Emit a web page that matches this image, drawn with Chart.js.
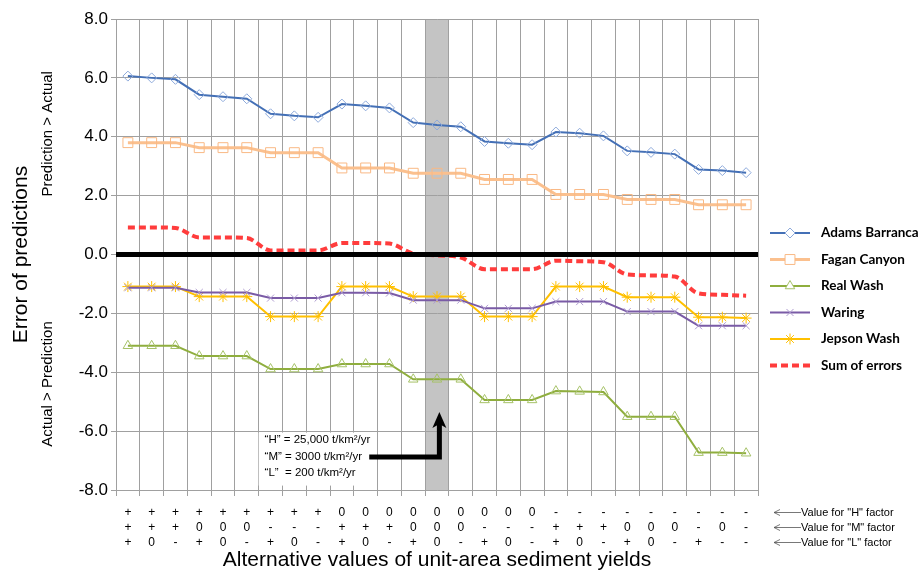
<!DOCTYPE html>
<html>
<head>
<meta charset="utf-8">
<script src="https://cdn.jsdelivr.net/npm/chart.js@4.4.1/dist/chart.umd.min.js"></script>
<style>
	html, body { margin: 0; padding: 0; background: #fff; }
	#wrap { width: 922px; height: 574px; position: relative; }
</style>
</head>
<body>
<div id="wrap"><canvas id="chart-sediment-errors"></canvas></div>
<script>
// Factor values for each alternative (rows under the x axis)
const H_FACTOR = ["+", "+", "+", "+", "+", "+", "+", "+", "+", "0", "0", "0", "0", "0", "0", "0", "0", "0", "-", "-", "-", "-", "-", "-", "-", "-", "-"];
const M_FACTOR = ["+", "+", "+", "0", "0", "0", "-", "-", "-", "+", "+", "+", "0", "0", "0", "-", "-", "-", "+", "+", "+", "0", "0", "0", "-", "0", "-"];
const L_FACTOR = ["+", "0", "-", "+", "0", "-", "+", "0", "-", "+", "0", "-", "+", "0", "-", "+", "0", "-", "+", "0", "-", "+", "0", "-", "+", "-", "-"];

// Series values (error of predictions)
const ADAMS_BARRANCA = [6.06, 6.00, 5.95, 5.43, 5.36, 5.29, 4.78, 4.71, 4.66, 5.11, 5.05, 4.98, 4.48, 4.40, 4.34, 3.84, 3.78, 3.73, 4.16, 4.12, 4.03, 3.52, 3.47, 3.41, 2.89, 2.85, 2.78];
const FAGAN_CANYON = [3.80, 3.80, 3.80, 3.63, 3.63, 3.63, 3.46, 3.46, 3.46, 2.94, 2.94, 2.94, 2.76, 2.76, 2.76, 2.55, 2.55, 2.55, 2.04, 2.04, 2.04, 1.87, 1.87, 1.87, 1.69, 1.69, 1.69];
const REAL_WASH = [-3.10, -3.10, -3.10, -3.45, -3.45, -3.45, -3.89, -3.89, -3.89, -3.72, -3.72, -3.72, -4.24, -4.24, -4.24, -4.94, -4.94, -4.94, -4.64, -4.65, -4.67, -5.51, -5.51, -5.51, -6.73, -6.73, -6.75];
const WARING = [-1.13, -1.13, -1.13, -1.29, -1.29, -1.29, -1.48, -1.48, -1.48, -1.30, -1.30, -1.31, -1.55, -1.55, -1.55, -1.83, -1.83, -1.83, -1.60, -1.60, -1.60, -1.94, -1.94, -1.94, -2.42, -2.42, -2.42];
const JEPSON_WASH = [-1.09, -1.09, -1.09, -1.43, -1.43, -1.43, -2.11, -2.11, -2.11, -1.09, -1.09, -1.09, -1.43, -1.43, -1.43, -2.11, -2.11, -2.11, -1.09, -1.09, -1.09, -1.45, -1.45, -1.45, -2.13, -2.13, -2.16];
const SUM_OF_ERRORS = [0.92, 0.92, 0.90, 0.58, 0.58, 0.56, 0.14, 0.14, 0.14, 0.39, 0.39, 0.37, 0.03, -0.03, -0.10, -0.50, -0.50, -0.50, -0.21, -0.23, -0.26, -0.68, -0.71, -0.75, -1.32, -1.37, -1.40];

// Highlighted alternative (H, M and L all at "0")
const HIGHLIGHT_INDEX = 13;
const NOTE_LINES = ["\u201CH\u201D = 25,000 t/km\u00B2/yr", "\u201CM\u201D = 3000 t/km\u00B2/yr", "\u201CL\u201D  = 200 t/km\u00B2/yr"];
const ROW_NOTES = ["Value for \"H\" factor", "Value for \"M\" factor", "Value for \"L\" factor"];

const LABELS = H_FACTOR.map((h, i) => [h, M_FACTOR[i], L_FACTOR[i]]);

const TICK_LEN = 6;
const TICK_PAD = 9;
const ROW_H = 15;
const GRID = "#a0a0a0";

//---------------------------------------------------------
// Extra drawing: band, zero line, notes, legend
//---------------------------------------------------------
const extrasPlugin = {
	id: "sedimentExtras",
	beforeDraw(chart) {
		const { ctx, chartArea: a, scales: { x } } = chart;
		const half = (x.getPixelForValue(1) - x.getPixelForValue(0)) / 2;
		const cx = x.getPixelForValue(HIGHLIGHT_INDEX);
		ctx.save();
		ctx.fillStyle = "#c4c4c4";
		ctx.fillRect(cx - half, a.top, half * 2, a.bottom - a.top);
		ctx.restore();
	},
	beforeDatasetsDraw(chart) {
		const { ctx, scales: { x, y } } = chart;
		// note box behind the text
		ctx.save();
		ctx.fillStyle = "#fff";
		const bx0 = x.getPixelForValue(5.5);
		const bx1 = x.getPixelForValue(10.2);
		const by0 = y.getPixelForValue(-6.05);
		const by1 = y.getPixelForValue(-7.85);
		ctx.fillRect(bx0, by0, bx1 - bx0, by1 - by0);
		ctx.restore();
	},
	afterDatasetsDraw(chart) {
		const { ctx, chartArea: a, scales: { y } } = chart;
		// zero line on top of the series
		const y0 = y.getPixelForValue(0);
		ctx.save();
		ctx.strokeStyle = "#000";
		ctx.lineWidth = 5;
		ctx.beginPath();
		ctx.moveTo(a.left, y0);
		ctx.lineTo(a.right, y0);
		ctx.stroke();
		ctx.restore();
	},
	afterDraw(chart) {
		const { ctx, chartArea: a, scales: { x, y } } = chart;
		ctx.save();

		// side labels on the y axis
		ctx.fillStyle = "#000";
		ctx.font = "15px 'Liberation Sans', Arial, sans-serif";
		ctx.textAlign = "center";
		ctx.textBaseline = "middle";
		[["Prediction > Actual", 4.1], ["Actual > Prediction", -4.4]].forEach(([t, v]) => {
			ctx.save();
			ctx.translate(a.left - 68, y.getPixelForValue(v));
			ctx.rotate(-Math.PI / 2);
			ctx.fillText(t, 0, 0);
			ctx.restore();
		});

		// note text
		ctx.font = "11.5px 'Liberation Sans', Arial, sans-serif";
		ctx.textAlign = "left";
		const nx = x.getPixelForValue(5.75);
		[-6.30, -6.88, -7.43].forEach((v, i) => {
			ctx.fillText(NOTE_LINES[i], nx, y.getPixelForValue(v));
		});

		// elbow arrow
		const ax0 = x.getPixelForValue(10.15);
		const ax1 = x.getPixelForValue(13.1);
		const ay0 = y.getPixelForValue(-6.88);
		const tip = y.getPixelForValue(-5.35);
		ctx.strokeStyle = "#000";
		ctx.lineWidth = 5;
		ctx.beginPath();
		ctx.moveTo(ax0, ay0);
		ctx.lineTo(ax1, ay0);
		ctx.lineTo(ax1, tip + 12);
		ctx.stroke();
		ctx.fillStyle = "#000";
		ctx.beginPath();
		ctx.moveTo(ax1, tip);
		ctx.lineTo(ax1 + 7, tip + 16);
		ctx.lineTo(ax1, tip + 12);
		ctx.lineTo(ax1 - 7, tip + 16);
		ctx.closePath();
		ctx.fill();

		// row notes with thin arrows
		ctx.font = "11px 'Liberation Sans', Arial, sans-serif";
		ctx.textBaseline = "middle";
		ROW_NOTES.forEach((t, i) => {
			const ry = x.top + TICK_LEN + TICK_PAD + ROW_H * (i + 0.5);
			const lx0 = a.right + 16;
			const lx1 = a.right + 43;
			ctx.strokeStyle = "#555";
			ctx.lineWidth = 0.8;
			ctx.beginPath();
			ctx.moveTo(lx1, ry);
			ctx.lineTo(lx0, ry);
			ctx.moveTo(lx0 + 6, ry - 3);
			ctx.lineTo(lx0, ry);
			ctx.lineTo(lx0 + 6, ry + 3);
			ctx.stroke();
			ctx.fillStyle = "#000";
			ctx.fillText(t, lx1, ry);
		});

		// legend
		ctx.font = "bold 13.5px Lato, 'Open Sans', sans-serif";
		chart.data.datasets.forEach((ds, i) => {
			const ly = a.top + 214 + i * 26.5;
			const l0 = a.right + 12;
			const l1 = a.right + 52;
			ctx.strokeStyle = ds.borderColor;
			ctx.lineWidth = ds.borderWidth;
			ctx.setLineDash(ds.borderDash || []);
			ctx.beginPath();
			ctx.moveTo(l0, ly);
			ctx.lineTo(l1, ly);
			ctx.stroke();
			ctx.setLineDash([]);
			if (ds.pointRadius > 0) {
				ctx.strokeStyle = ds.pointBorderColor;
				ctx.fillStyle = "#fff";
				ctx.lineWidth = 1;
				Chart.helpers.drawPoint(ctx, {
					pointStyle: ds.pointStyle,
					radius: ds.pointRadius,
					borderWidth: 1,
					rotation: 0,
				}, (l0 + l1) / 2, ly);
			}
			ctx.fillStyle = "#000";
			ctx.fillText(ds.label, a.right + 63, ly);
		});
		ctx.restore();
	},
};

//---------------------------------------------------------
// Chart
//---------------------------------------------------------
const lineSet = (label, data, color, markerColor, style, radius, width) => ({
	label: label,
	data: data,
	borderColor: color,
	borderWidth: width,
	pointStyle: style,
	pointRadius: radius,
	pointHoverRadius: radius,
	pointBorderColor: markerColor,
	pointBackgroundColor: "rgba(255,255,255,0)",
	pointBorderWidth: 1,
	tension: 0,
});

const CHART_DATA = {
	labels: LABELS,
	datasets: [
		lineSet("Adams Barranca", ADAMS_BARRANCA, "#4470b6", "#8eaadb", "rectRot", 5, 2),
		lineSet("Fagan Canyon", FAGAN_CANYON, "#fbc08e", "#f9b985", "rect", 7, 3),
		lineSet("Real Wash", REAL_WASH, "#8fae3e", "#a6c268", "triangle", 5.5, 2),
		lineSet("Waring", WARING, "#7a5ba6", "#ae9bcf", "crossRot", 5, 2),
		lineSet("Jepson Wash", JEPSON_WASH, "#ffc000", "#ffc000", "star", 5.5, 2),
		{
			label: "Sum of errors",
			data: SUM_OF_ERRORS,
			borderColor: "#ff3c3c",
			borderWidth: 4,
			borderDash: [7, 4],
			pointRadius: 0,
			cubicInterpolationMode: "monotone",
		},
	],
};

const CHART_CONFIG = {
	type: "line",
	data: CHART_DATA,
	plugins: [extrasPlugin],
	options: {
		responsive: true,
		maintainAspectRatio: false,
		animation: false,
		layout: {
			padding: { left: 0, right: 164, top: 19, bottom: 0 },
		},
		scales: {
			x: {
				offset: true,
				border: { display: true, color: GRID },
				grid: {
					offset: true,
					color: GRID,
					lineWidth: 1,
					tickLength: TICK_LEN,
				},
				ticks: {
					padding: TICK_PAD,
					color: "#000",
					maxRotation: 0,
					autoSkip: false,
					font: { family: "'Liberation Sans', Arial, sans-serif", size: 12, lineHeight: ROW_H / 12 },
				},
				title: {
					display: true,
					text: "Alternative values of unit-area sediment yields",
					color: "#000",
					font: { family: "'Liberation Sans', Arial, sans-serif", size: 21 },
					padding: { top: 0, bottom: 1 },
				},
				afterFit: (scale) => {
					scale.height = 84;
				},
			},
			y: {
				min: -8,
				max: 8,
				border: { display: true, color: GRID },
				grid: {
					color: GRID,
					lineWidth: 1,
					tickLength: 5,
				},
				ticks: {
					stepSize: 2,
					padding: 3,
					color: "#000",
					font: { family: "'Liberation Sans', Arial, sans-serif", size: 17 },
					callback: (v) => Number(v).toFixed(1),
				},
				title: {
					display: true,
					text: "Error of predictions",
					color: "#000",
					font: { family: "'Liberation Sans', Arial, sans-serif", size: 21 },
					padding: { top: 9, bottom: 0 },
				},
				afterFit: (scale) => {
					scale.width = 116;
				},
			},
		},
		plugins: {
			legend: { display: false },
			tooltip: { enabled: false },
		},
	},
};

const CHART_WRAPPER = document.getElementById("chart-sediment-errors");
if (CHART_WRAPPER) {
	new Chart(CHART_WRAPPER, CHART_CONFIG);
}
</script>
</body>
</html>
